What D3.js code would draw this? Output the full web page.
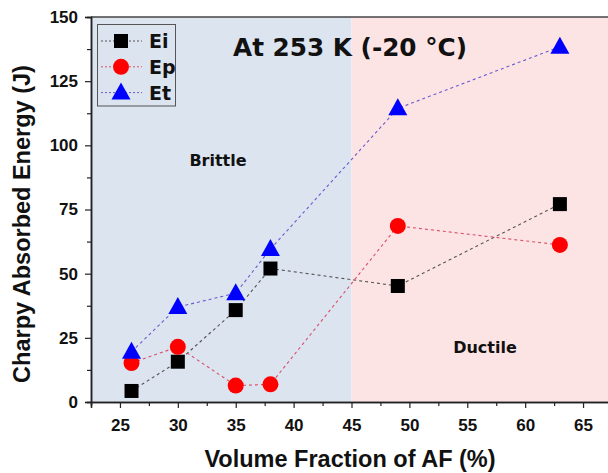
<!DOCTYPE html>
<html>
<head>
<meta charset="utf-8">
<script src="https://cdn.jsdelivr.net/npm/d3@7/dist/d3.min.js"></script>
<style>
  html, body { margin: 0; padding: 0; background: #fff; }
  svg { display: block; }
</style>
</head>
<body>
<svg id="chart" width="608" height="473"></svg>
<script>
// Charpy impact energy vs. acicular ferrite fraction at 253 K
const afFraction = [26, 30, 35, 38, 49, 63];
const energyEi = [4.3, 15.7, 35.8, 52.0, 45.2, 77.1];
const energyEp = [15.2, 21.5, 6.4, 6.9, 68.6, 61.2];
const energyEt = [19.6, 37.0, 42.4, 59.6, 114.4, 138.4];
const xTicks = [25, 30, 35, 40, 45, 50, 55, 60, 65];
const yTicks = [0, 25, 50, 75, 100, 125, 150];
const seriesNames = ["Ei", "Ep", "Et"];
const transitionAt = 45;

const svg = d3.select("#chart");
const plotLeft = 91, plotTop = 17, plotBottom = 402, plotRight = 612;

const x = d3.scaleLinear().domain([22.5, 67.5]).range([plotLeft, plotRight]);
const y = d3.scaleLinear().domain([0, 150]).range([plotBottom, plotTop]);

// Brittle / ductile regions
svg.append("rect")
  .attr("x", x(22.5)).attr("y", plotTop)
  .attr("width", x(transitionAt) - x(22.5)).attr("height", plotBottom - plotTop)
  .attr("fill", "#dce4f0");
svg.append("rect")
  .attr("x", x(transitionAt)).attr("y", plotTop)
  .attr("width", x(67.5) - x(transitionAt)).attr("height", plotBottom - plotTop)
  .attr("fill", "#fde4e4");

// Frame top line
svg.append("line")
  .attr("x1", plotLeft).attr("x2", 608).attr("y1", plotTop).attr("y2", plotTop)
  .attr("stroke", "#444").attr("stroke-width", 1.5);

// Axes
const xAxis = d3.axisBottom(x).tickValues(xTicks).tickSize(6).tickPadding(11).tickFormat(d3.format("d"));
const xMinor = d3.axisBottom(x).tickValues(d3.range(22.5, 67.6, 5)).tickSize(4).tickFormat("");
const yAxis = d3.axisLeft(y).tickValues(yTicks).tickSize(6).tickPadding(7).tickFormat(d3.format("d"));
const yMinor = d3.axisLeft(y).tickValues(d3.range(12.5, 150, 25)).tickSize(4).tickFormat("");

function styleAxis(g) {
  g.select(".domain").attr("stroke", "#222").attr("stroke-width", 1.5);
  g.selectAll(".tick line").attr("stroke", "#222").attr("stroke-width", 1.2);
  g.selectAll(".tick text")
    .attr("fill", "#111")
    .style("font-family", "'Liberation Sans', Arial, sans-serif")
    .style("font-weight", "bold")
    .style("font-size", "17px");
}

svg.append("g").attr("transform", `translate(0,${plotBottom})`).call(xMinor).call(styleAxis);
svg.append("g").attr("transform", `translate(0,${plotBottom})`).call(xAxis).call(styleAxis);
svg.append("g").attr("transform", `translate(${plotLeft},0)`).call(yMinor).call(styleAxis);
svg.append("g").attr("transform", `translate(${plotLeft},0)`).call(yAxis).call(styleAxis);

// Axis titles
svg.append("text")
  .attr("x", 350).attr("y", 467)
  .attr("text-anchor", "middle")
  .style("font-family", "'Liberation Sans', Arial, sans-serif")
  .style("font-weight", "bold").style("font-size", "23.5px").attr("fill", "#111")
  .text("Volume Fraction of AF (%)");
svg.append("text")
  .attr("transform", "translate(30,224) rotate(-90)")
  .attr("text-anchor", "middle")
  .style("font-family", "'Liberation Sans', Arial, sans-serif")
  .style("font-weight", "bold").style("font-size", "23.5px").attr("fill", "#111")
  .text("Charpy Absorbed Energy (J)");

// Series
const series = [
  { name: seriesNames[0], values: energyEi, color: "#000000", line: "#555555", shape: "square" },
  { name: seriesNames[1], values: energyEp, color: "#ff0000", line: "#d9506a", shape: "circle" },
  { name: seriesNames[2], values: energyEt, color: "#0000ff", line: "#6a5acd", shape: "triangle" }
];

function drawMarker(g, shape, color, cx, cy) {
  if (shape === "square") {
    g.append("rect").attr("x", cx - 7).attr("y", cy - 7).attr("width", 14).attr("height", 14)
      .attr("fill", color);
  } else if (shape === "circle") {
    g.append("circle").attr("cx", cx).attr("cy", cy).attr("r", 8).attr("fill", color);
  } else {
    g.append("path")
      .attr("d", `M${cx},${cy - 10}L${cx + 9.5},${cy + 7}L${cx - 9.5},${cy + 7}Z`)
      .attr("fill", color);
  }
}

const line = d3.line().x(d => x(d[0])).y(d => y(d[1]));
series.forEach(s => {
  const pts = afFraction.map((v, i) => [v, s.values[i]]);
  svg.append("path")
    .attr("d", line(pts))
    .attr("fill", "none")
    .attr("stroke", s.line)
    .attr("stroke-width", 1.1)
    .attr("stroke-dasharray", "3,3");
});
series.forEach(s => {
  const g = svg.append("g");
  afFraction.forEach((v, i) => drawMarker(g, s.shape, s.color, x(v), y(s.values[i])));
});

// Legend
const legend = svg.append("g");
legend.append("rect")
  .attr("x", 97.5).attr("y", 24.5).attr("width", 78).attr("height", 81.5)
  .attr("fill", "#dce4f0").attr("stroke", "#555").attr("stroke-width", 1);
series.forEach((s, i) => {
  const ly = 41 + i * 25.8;
  legend.append("line")
    .attr("x1", 101).attr("x2", 142).attr("y1", ly).attr("y2", ly)
    .attr("stroke", s.line).attr("stroke-width", 1).attr("stroke-dasharray", "2,2");
  drawMarker(legend, s.shape, s.color, 121, ly);
  legend.append("text")
    .attr("x", 149).attr("y", ly + 7)
    .style("font-family", "'DejaVu Sans', Verdana, sans-serif")
    .style("font-weight", "bold").style("font-size", "19px").attr("fill", "#111")
    .text(s.name);
});

// Annotations
svg.append("text")
  .attr("x", 233).attr("y", 56)
  .attr("textLength", 234).attr("lengthAdjust", "spacingAndGlyphs")
  .style("font-family", "'DejaVu Sans', Verdana, sans-serif")
  .style("font-weight", "bold").style("font-size", "24px").attr("fill", "#111")
  .text("At 253 K (-20 °C)");
svg.append("text")
  .attr("x", 218).attr("y", 166).attr("text-anchor", "middle")
  .style("font-family", "'DejaVu Sans', Verdana, sans-serif")
  .style("font-weight", "bold").style("font-size", "16px").attr("fill", "#111")
  .text("Brittle");
svg.append("text")
  .attr("x", 485).attr("y", 353).attr("text-anchor", "middle")
  .style("font-family", "'DejaVu Sans', Verdana, sans-serif")
  .style("font-weight", "bold").style("font-size", "16px").attr("fill", "#111")
  .text("Ductile");
</script>
</body>
</html>
